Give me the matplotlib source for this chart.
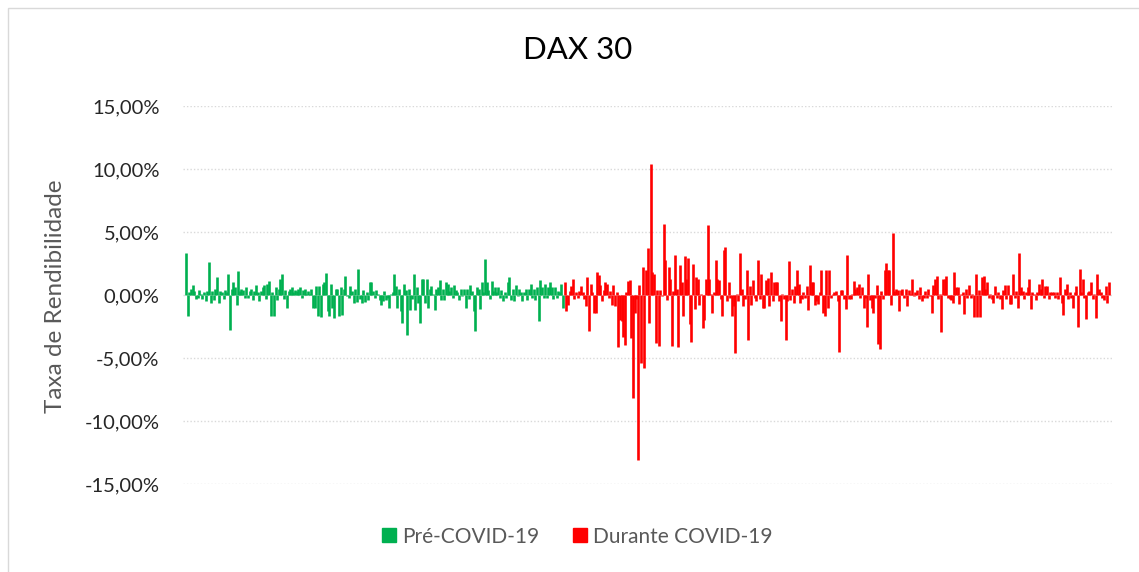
import numpy as np
import matplotlib
matplotlib.use("Agg")
import matplotlib.pyplot as plt
from matplotlib.patches import Patch, Rectangle
from matplotlib.ticker import FuncFormatter

# -------------------------------------------------
# DADOS (taxas de rendibilidade diárias, em %)
# -------------------------------------------------
pre_covid = [
    3.36, -1.67, 0.2, 0.5, 0.8, 0.3, -0.3, -0.2, 0.4, 0.1, -0.3, 0.2, -0.5, 0.3, 2.65, -0.66,
    0.3, -0.4, 0.5, 1.4, -0.66, 0.3, 0.2, -0.3, 0.4, 0.2, 1.7, -2.8, 0.5, 1.0, 0.6, -0.8,
    1.9, 0.3, 0.5, 0.4, -0.2, 0.6, -0.2, 0.3, 0.5, -0.4, 0.3, 0.8, 0.2, -0.5, 0.3, 0.6,
    0.8, -0.3, 0.9, 1.1, -1.67, 0.2, -1.67, 0.6, -0.4, 0.5, 1.3, 1.7, -0.3, 0.4, -1.05, 0.3,
    0.5, 0.6, 0.2, 0.4, 0.3, 0.5, 0.6, -0.2, 0.4, 0.5, 0.1, 0.3,
    0.1, 0.5, -1.05, -1.05, 0.7, -1.67, 0.7, -1.77, 0.9, 1.0, 1.75, -1.3, -1.67, 0.9, -1.05, -1.85,
    0.45, 0.45, -1.7, 0.65, -1.6, 0.5, 1.5, -0.1, -0.25, 0.7, 0.3, -0.65, 0.45, -0.55, 2.05, -0.3,
    -0.65, 0.4, -0.55, 0.2, -0.4, 1.05, 1.0, 0.3, -0.25, 0.4, 0.1, -0.4, -0.8, -0.5, 0.35, -0.4,
    -0.2, -1.05, 0.1, 0.25, 1.7, 0.7, -1.05, 0.45, -1.3, -2.2, 0.9, 0.4, -3.15, 0.45, -1.2, -0.3,
    1.7, -1.2, 0.65, -0.6, -2.25, 1.3, 1.3, -0.6, 1.3, -1.05, 0.5, 0.7, 0.1,
    -1.2, 0.45, 0.65, 1.2, -0.4, 0.45, -0.4, 1.0, 0.9, 0.3, 0.65, -0.2, 0.8, 0.4, 0.2, -0.4,
    0.45, -0.1, 0.5, -1.05, 0.45, -0.35, 0.8, 0.35, -1.3, -2.85, 0.65, 0.45, -1.15, 1.05, 0.2, 2.85,
    1.0, 0.4, -0.35, 1.15, 0.3, 0.65, 0.2, 0.6, -0.2, 0.4, -0.5, 0.2, -0.2, 1.05, 1.4, -0.4,
    0.5, -0.5, 0.8, -0.1, 0.45, 0.2, -0.5, 0.2, 0.5, -0.4, 0.5, 0.9, -0.2, 0.45, -0.4, 0.6,
    -2.1, 1.2, 0.65, -0.25, 0.9, -0.2, 0.65, 1.05, 0.6, -0.35, 0.65, -0.2, 0.3, 0.2, 0.9, -1.05,
]

durante_covid = [
    1.0, -1.3, -0.8, 0.3, 0.75, 1.3, -0.3, 0.2, -0.2, 0.3, 0.75, 0.2, -0.3, -0.9, 1.4, -2.85,
    0.9, 0.2, -1.45, -1.4, 1.8, 1.6, 0.8, -0.5, 0.4, 1.0, 0.9, -0.2, 0.3, -0.8, 0.8, -0.9,
    0.2, -4.15, -2.0, -2.05, -3.3, -3.97, 0.2, 1.1, 1.2, -3.45, -8.2, -1.45, -0.3, -13.1, 0.8, -5.4,
    2.25, -5.8, 2.0, 3.7, -2.2, 10.4, 1.85, 1.7, -3.8, 0.4, -4.05, 0.4, -0.1, 5.6, 2.8,
    -0.4, 2.25, 1.25, -4.05, 0.3, 3.2, 0.5, -4.15, 2.4, 1.0, -1.7, 3.1, 1.3, 2.9, -2.3, -3.7,
    2.5, -1.1, 1.45, 1.3, -0.8, 0.1, -2.65, -2.0, 1.25, 5.55, 1.25, 0.1, -1.45, 0.2, 2.8, 1.3,
    1.2, -0.3, -1.7, 3.6, 3.8, -0.5, 1.05, -0.2, -1.65, -0.9, -4.6, 0.1, -0.5, 3.35, 0.5, -0.9,
    -0.3, 2.0, -3.55, 0.7, -0.8, 1.2, -0.2, -0.5, 2.8, -0.3, 1.65, -1.0, -1.05, 1.2, 1.35, -0.9,
    1.85, -0.45, 1.05, 1.0, 1.0, -0.5, -2.1, 0.1,
    -0.3, -3.55, -0.5, 2.7, -0.4, 0.5, -0.6, 0.7, 2.0, 0.85, -0.65, -0.3, 0.2, -0.2, 0.7, -1.2,
    2.4, 1.0, 1.0, -0.8, -0.5, -0.7, 0.25, 2.0, -1.45, -1.7, 2.0, -1.05, 2.0, -0.2, 0.1, 0.2,
    0.3, -0.5, -4.5, 0.4, 0.4, -0.3, -1.1, 3.2, -0.3, -0.3, 0.1, 1.15, 0.5, 0.6, 0.85, -0.2,
    0.65, -1.0, -0.2, -2.55, 1.65, -0.4, -1.0, -1.45, -0.2, 0.8, -3.85, -4.3, 0.35, -0.3, 1.95, 2.55,
    1.95, 2.0, -0.8, 4.9, 0.3,
    0.5, 0.4, -1.3, 0.4, 0.5, -0.2, 0.5, -0.9, 0.4, 0.1, 1.3, -0.1, 0.2, 0.4, -0.35, 0.6,
    -0.5, -0.2, 0.35, -0.2, 0.45, -0.1, -1.4, 0.8, 1.25, 1.5, -0.35, 0.1, -2.9, 1.25, 1.3, 1.5,
    -0.2, -0.3, -0.4, -0.6, 1.8, 0.6, 0.6, -0.7, 0.1, 0.2, -1.5, 0.45, -0.2, 0.8, -0.2, 0.1,
    -1.75, 1.65, -1.75, 0.4, -1.75, 1.4, 1.5, 0.45, 1.05, -0.2, 0.1, -0.3, -0.6, 0.7, -0.2, 0.2,
    -0.3, -1.1, 0.4, 0.8, -0.3, 0.8, -0.7, -0.7,
    1.65, -0.2, 0.35, -1.05, 3.3, 0.65, 0.35, -0.3, 0.2, 0.65, 1.25, -1.15, 0.25, 0.1,
    -0.4, 0.2, 0.85, 0.45, 1.3, -0.2, 0.7, 0.7, -0.3, 0.2, 0.2, 0.2, -0.2, 0.2, -0.3, 1.4,
    -0.65, -1.6, 0.45, 0.85, -0.3, 0.2, -0.2, -1.0, 0.2, 0.7, -2.55, 2.1, 0.2, 1.3, -0.2, -1.9,
    0.2, 0.35, 1.05, -0.3, 0.1, -1.85, 1.7, 0.45, 0.2, -0.2, -0.4, 0.7, -0.65, 1.0,
]

y_ticks = [-15, -10, -5, 0, 5, 10, 15]

VERDE = "#00B050"
VERMELHO = "#FF0000"
CINZA = "#595959"

# -------------------------------------------------
# FIGURA
# -------------------------------------------------
plt.rcParams["font.family"] = ["Lato", "DejaVu Sans"]

fig = plt.figure(figsize=(11.39, 5.72), dpi=100)
fig.patches.append(Rectangle((8 / 1139, -0.1), 1.2, 1 - 8 / 572 + 0.1,
                             transform=fig.transFigure, fill=False,
                             edgecolor="#D9D9D9", linewidth=1.0))

ax = fig.add_axes([183 / 1139, 1 - 484 / 572, (1112 - 183) / 1139, (484 - 106) / 572])

n_pre = len(pre_covid)
x_pre = np.arange(n_pre)
x_dur = np.arange(n_pre, n_pre + len(durante_covid))

ax.vlines(x_pre, 0, pre_covid, color=VERDE, linewidth=1.9, zorder=3)
ax.vlines(x_dur, 0, durante_covid, color=VERMELHO, linewidth=1.9, zorder=3)

ax.set_xlim(-2, n_pre + len(durante_covid) + 1)
ax.set_ylim(-15, 15)
ax.set_yticks(y_ticks)
ax.yaxis.set_major_formatter(FuncFormatter(lambda v, p: f"{v:.2f}%".replace(".", ",")))
ax.tick_params(axis="y", length=0, labelsize=14.5, colors="#262626", pad=17)
ax.set_xticks([])
for s in ax.spines.values():
    s.set_visible(False)
ax.grid(axis="y", color="#D9D9D9", linestyle=(0, (1, 1.5)), linewidth=1.0, zorder=0)

fig.text(56 / 1139, 0.4817, "Taxa de Rendibilidade", rotation=90, ha="center", va="center",
         fontsize=17.5, color=CINZA)
fig.text(0.507, 0.912, "DAX 30", ha="center", va="center", fontsize=22.5, color="#000000")

handles = [Patch(color=VERDE, label="Pré-COVID-19"),
           Patch(color=VERMELHO, label="Durante COVID-19")]
leg = fig.legend(handles=handles, loc="center", bbox_to_anchor=(0.507, 0.062), ncol=2,
                 frameon=False, fontsize=15, handlelength=0.67, handleheight=0.67,
                 handletextpad=0.3, columnspacing=1.6)
for t in leg.get_texts():
    t.set_color(CINZA)

fig.savefig("out.png", dpi=100)
plt.close(fig)
